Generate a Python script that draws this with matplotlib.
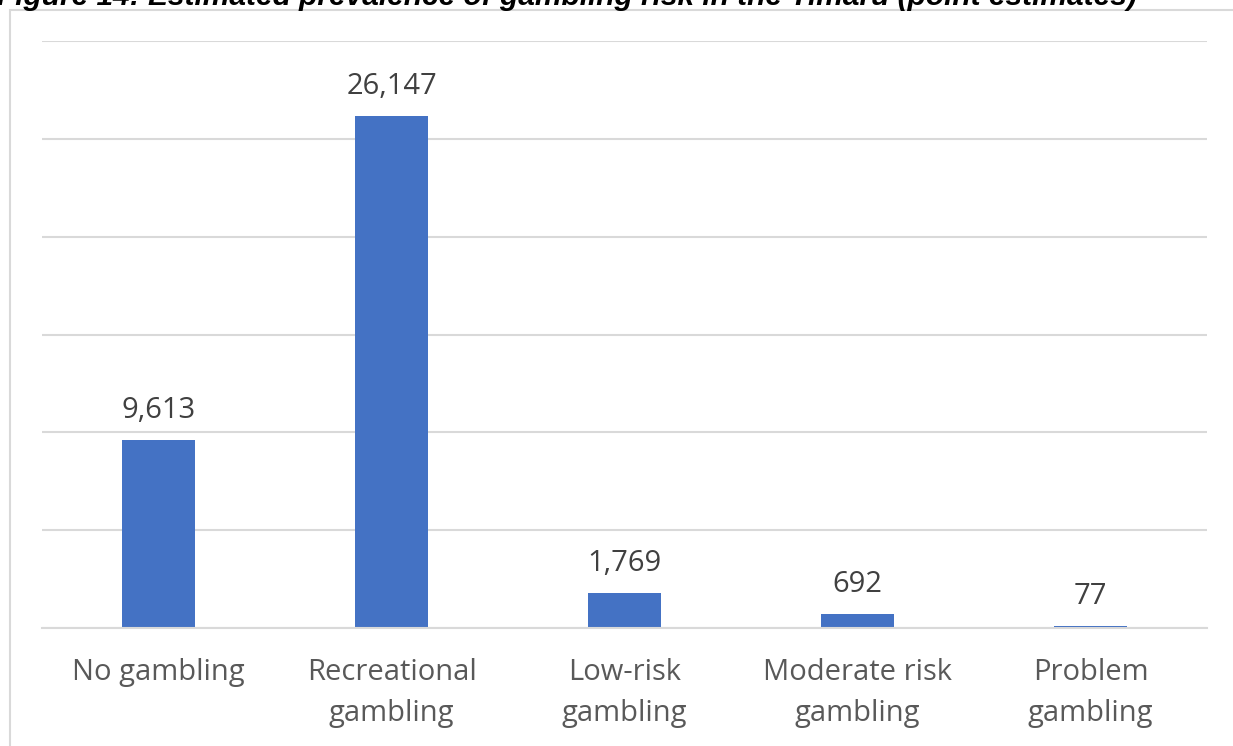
import matplotlib
matplotlib.use("Agg")
import matplotlib.pyplot as plt
from matplotlib.patches import Rectangle

categories = ["No gambling", "Recreational\ngambling", "Low-risk\ngambling",
              "Moderate risk\ngambling", "Problem\ngambling"]
values = [9613, 26147, 1769, 692, 77]
y_ticks = [0, 5000, 10000, 15000, 20000, 25000, 30000]

BAR = "#4472C4"
GRID = "#D9D9D9"
TXT = "#595959"
LBL = "#404040"

W, H = 1233, 746
fig = plt.figure(figsize=(W / 100, H / 100), dpi=100)
fig.patch.set_facecolor("white")

# chart frame
fig.patches.append(Rectangle((10 / W, -0.01), (W + 20) / W, 1 - 10 / H + 0.01,
                             transform=fig.transFigure, fill=False,
                             edgecolor="#D9D9D9", lw=1.5))

ax = fig.add_axes([42 / W, 118 / H, (1207 - 42) / W, (628 - 41) / H])
x = range(len(categories))
ax.bar(x, values, width=0.31, color=BAR, zorder=2)
ax.set_xlim(-0.5, len(categories) - 0.5)
ax.set_ylim(0, 30000)
ax.set_yticks(y_ticks)
ax.yaxis.grid(True, color=GRID, lw=1.5, zorder=0)
ax.tick_params(axis="y", left=False, labelleft=False)
ax.tick_params(axis="x", bottom=False, pad=18)
ax.set_xticks(list(x))
ax.set_xticklabels(categories, fontsize=21, color=TXT, family="Open Sans",
                   linespacing=1.55)
for s in ("top", "right", "left"):
    ax.spines[s].set_visible(False)
ax.spines["bottom"].set_color(GRID)
ax.spines["bottom"].set_linewidth(1.5)

for xi, v in zip(x, values):
    ax.annotate(f"{v:,}", (xi, v), xytext=(0, 11), textcoords="offset points",
                ha="center", va="bottom", fontsize=21, color=LBL, family="Open Sans")

fig.text(-3 / W, 1 - 5 / H,
         "Figure 14: Estimated prevalence of gambling risk in the Timaru (point estimates)",
         ha="left", va="baseline", fontsize=21.5, fontweight="bold", fontstyle="italic",
         family="Liberation Sans", color="black")

fig.savefig("out.png", dpi=100, facecolor="white")
